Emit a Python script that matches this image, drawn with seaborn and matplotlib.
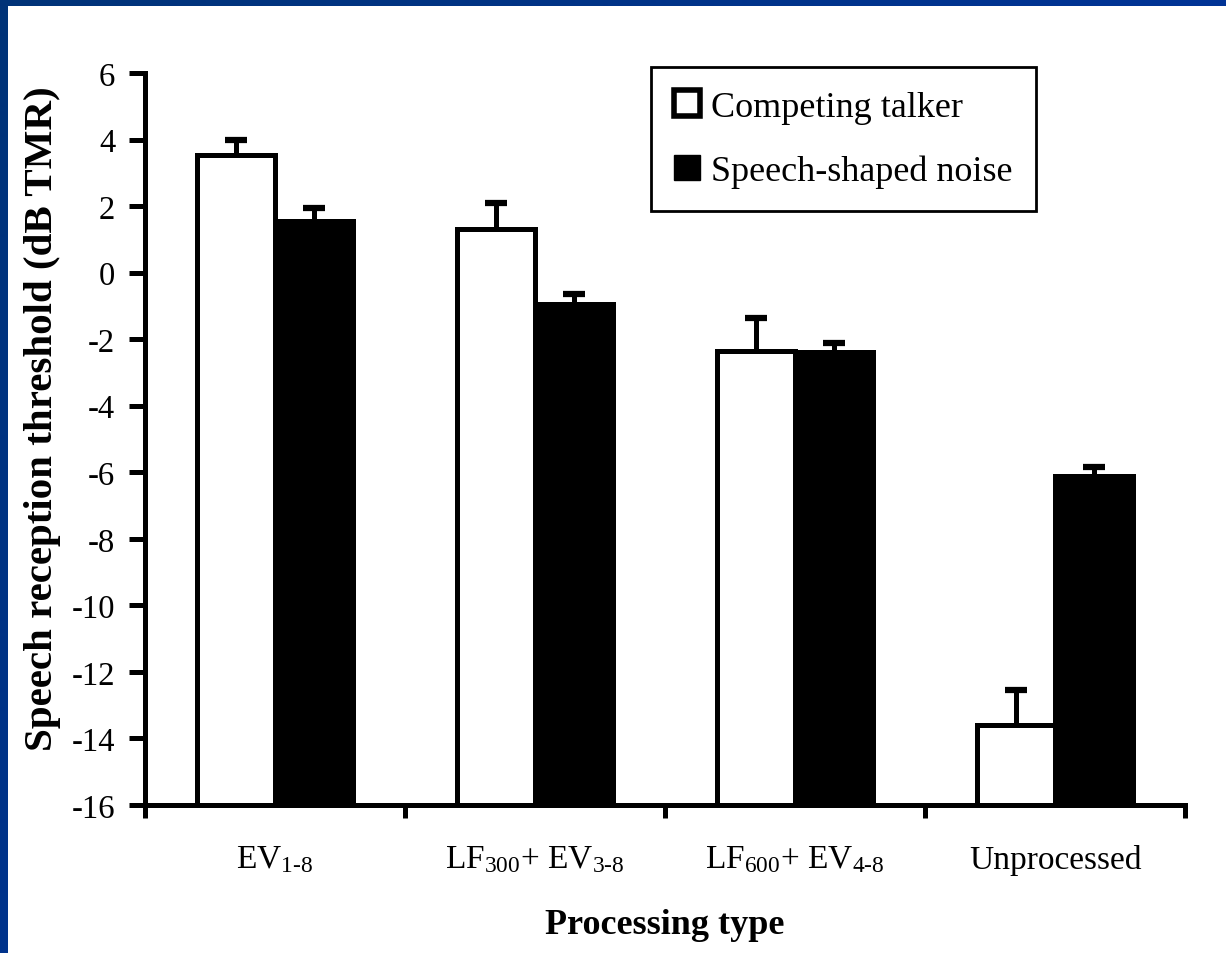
import numpy as np
import pandas as pd
import matplotlib
matplotlib.use("Agg")
import matplotlib.pyplot as plt
from matplotlib.patches import Patch, Rectangle
import seaborn as sns

# Speech reception thresholds (dB TMR) by processing type
categories = [r"EV$_{1\text{-}8}$",
              r"LF$_{300}$+ EV$_{3\text{-}8}$",
              r"LF$_{600}$+ EV$_{4\text{-}8}$",
              "Unprocessed"]
series_names = ["Competing talker", "Speech-shaped noise"]
competing = [3.55, 1.3, -2.35, -13.6]
ssn = [1.55, -0.95, -2.4, -6.1]
competing_err = [0.45, 0.8, 1.0, 1.05]
ssn_err = [0.4, 0.3, 0.3, 0.25]
y_ticks = list(range(-16, 7, 2))
baseline = -16

df = pd.DataFrame({
    "Processing type": categories * 2,
    "Masker": [series_names[0]] * 4 + [series_names[1]] * 4,
    "SRT": competing + ssn,
})

sns.set_theme(style="ticks")
plt.rcParams["font.family"] = ["Liberation Serif", "DejaVu Serif"]
plt.rcParams["mathtext.fontset"] = "custom"
plt.rcParams["mathtext.rm"] = "Liberation Serif"
plt.rcParams["mathtext.it"] = "Liberation Serif"
plt.rcParams["mathtext.default"] = "rm"
for key in ("text.color", "axes.labelcolor", "xtick.color", "ytick.color"):
    plt.rcParams[key] = "black"

W, H = 1226, 954
fig = plt.figure(figsize=(W / 100, H / 100), dpi=100)
fig.patch.set_facecolor("white")

# slide frame: blue gradient band along top and left edges
bg = fig.add_axes([0, 0, 1, 1], zorder=-5)
gx, gy = np.meshgrid(np.linspace(0, 1, 256), np.linspace(0, 1, 256))
t = np.clip(0.6 * gx + 0.4 * gy, 0, 1)
c0 = np.array([0x00, 0x33, 0x78]) / 255
c1 = np.array([0x00, 0x33, 0xAA]) / 255
img = c0[None, None, :] * (1 - t[..., None]) + c1[None, None, :] * t[..., None]
bg.imshow(img, extent=[0, W, H, 0], aspect="auto")
bg.add_patch(Rectangle((8, 7), W - 8, H - 7, facecolor="white", edgecolor="none"))
bg.set_xlim(0, W)
bg.set_ylim(H, 0)
bg.axis("off")

ax = fig.add_axes([145 / W, 1 - 806 / H, (1185 - 145) / W, (806 - 74) / H])
ax.set_facecolor("none")

sns.barplot(data=df, x="Processing type", y="SRT", hue="Masker",
            hue_order=series_names, order=categories,
            palette=["white", "black"], width=0.6, gap=0,
            edgecolor="black", linewidth=3.6, errorbar=None,
            legend=False, ax=ax)

# bars rise from the bottom of the scale rather than from zero
errs = [competing_err, ssn_err]
for container, err in zip(ax.containers, errs):
    xs, tops = [], []
    for p in container:
        v = p.get_y() + p.get_height()
        p.set_y(baseline)
        p.set_height(v - baseline)
        p.set_zorder(2)
        xs.append(p.get_x() + p.get_width() / 2)
        tops.append(v)
    eb = ax.errorbar(xs, tops, yerr=[np.zeros(len(err)), err], fmt="none",
                     ecolor="black", elinewidth=3.6, capsize=8, capthick=4.5,
                     zorder=3)
    for cl in eb[1]:
        if np.allclose(cl.get_ydata(), tops):
            cl.set_visible(False)

ax.set_ylim(baseline, 6)
ax.set_xlim(-0.5, 3.5)
ax.set_yticks(y_ticks)
ax.set_yticklabels([str(v) for v in y_ticks])
ax.set_xticks(np.arange(-0.5, 4.0, 1.0))
ax.set_xticklabels([])
ax.set_xticks(range(len(categories)), minor=True)
ax.set_xticklabels(categories, minor=True)
ax.tick_params(axis="x", which="minor", length=0, pad=28, labelsize=24)
ax.tick_params(axis="x", which="major", direction="out", length=9, width=3.6)
ax.tick_params(axis="y", direction="out", length=11.5, width=3.6, labelsize=23.5, pad=10)

sns.despine(ax=ax)
for s in ("left", "bottom"):
    ax.spines[s].set_linewidth(3.6)
    ax.spines[s].set_color("black")
    ax.spines[s].set_zorder(4)

ax.set_xlabel("Processing type", fontsize=26, fontweight="bold", labelpad=24)
ax.set_ylabel("Speech reception threshold (dB TMR)", fontsize=29.5,
              fontweight="bold")
ax.yaxis.set_label_coords(-0.081, 0.529)

handles = [Patch(facecolor="white", edgecolor="black", linewidth=4),
           Patch(facecolor="black", edgecolor="black", linewidth=1)]
leg = ax.legend(handles=handles, labels=series_names, loc="upper left",
                bbox_to_anchor=(651 / W, 1 - 68 / H), bbox_transform=fig.transFigure,
                fontsize=26, frameon=True, fancybox=False, borderaxespad=0,
                handlelength=0.7, handleheight=0.7, handletextpad=0.3,
                labelspacing=0.85, borderpad=0.65)
leg.get_frame().set_edgecolor("black")
leg.get_frame().set_linewidth(2)
leg.get_frame().set_alpha(1)

fig.savefig("out.png", dpi=100, facecolor="white")
